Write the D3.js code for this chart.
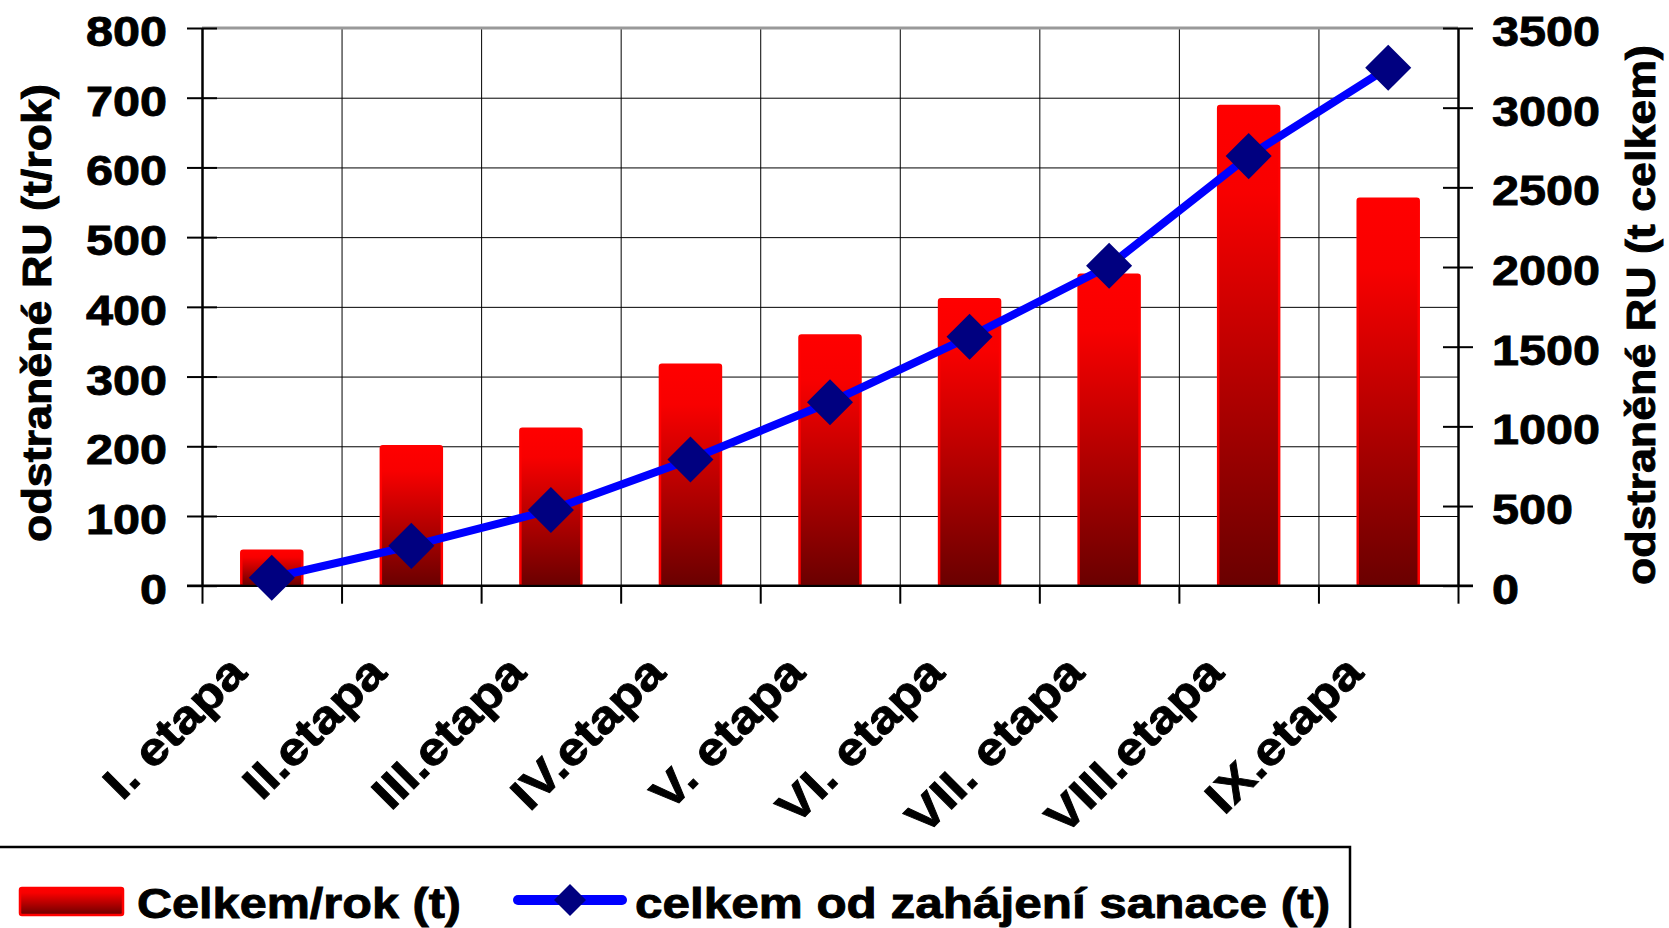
<html>
    <head>
        <meta charset="utf-8">
        <title>Odstraněné RU</title>
        <script src="https://d3js.org/d3.v7.min.js"></script>
    </head>

    <style>
        body {
        margin: 0;
        background: #fff;
        }

        svg {
        display: block;
        }

        text {
        font-family: 'Liberation Sans', Arial, sans-serif;
        font-weight: bold;
        fill: #000;
        stroke: #000;
        stroke-width: 0.9;
        }

        .grid path {
        stroke-width: 0;
        }

        .grid .tick line {
        stroke: #000;
        stroke-width: 1;
        }

        .axis path {
        stroke: #000;
        stroke-width: 2.5;
        }

        .axis .tick line {
        stroke: #000;
        stroke-width: 2;
        }

        .axis .tick text {
        font-size: 43px;
        }

        text.cat {
        font-size: 46px;
        }

        text.label {
        font-size: 40px;
        }

        text.legend {
        font-size: 43px;
        }
    </style>

    <body>
        <svg width="1669" height="928"></svg>

    <script>
        const categories = ['I. etapa', 'II.etapa', 'III.etapa', 'IV.etapa', 'V. etapa',
            'VI. etapa', 'VII. etapa', 'VIII.etapa', 'IX.etapa'];
        const perYear = [50, 200, 225, 317, 359, 411, 446, 688, 555];
        const cumulative = [50, 250, 475, 792, 1151, 1562, 2008, 2696, 3251];
        const leftTicks = [0, 100, 200, 300, 400, 500, 600, 700, 800];
        const rightTicks = [0, 500, 1000, 1500, 2000, 2500, 3000, 3500];

        const svg = d3.select('svg');

        // plot area
        const plotLeft = 202, plotRight = 1458, plotTop = 28, plotBottom = 585.7;
        const stretch = 1.13;

        const xBand = d3.scaleBand()
        .domain(categories)
        .range([plotLeft, plotRight])
        .padding(0);

        const xEdge = d3.scaleLinear()
        .domain([0, categories.length])
        .range([plotLeft, plotRight]);

        const yLeft = d3.scaleLinear()
        .domain([0, 800])
        .range([plotBottom, plotTop]);

        const yRight = d3.scaleLinear()
        .domain([0, 3500])
        .range([plotBottom, plotTop]);

        const defs = svg.append('defs');
        const grad = defs.append('linearGradient')
        .attr('id', 'barFill')
        .attr('x1', 0).attr('y1', 0)
        .attr('x2', 0).attr('y2', 1);
        grad.append('stop').attr('offset', '0%').attr('stop-color', '#ff0000');
        grad.append('stop').attr('offset', '18%').attr('stop-color', '#f80000');
        grad.append('stop').attr('offset', '100%').attr('stop-color', '#6a0000');

        // grid
        svg.append('g')
        .attr('class', 'grid')
        .attr('transform', `translate(${plotLeft}, 0)`)
        .call(d3.axisLeft(yLeft)
            .tickValues(leftTicks)
            .tickSize(-(plotRight - plotLeft))
            .tickFormat('')
        );

        svg.append('g')
        .attr('class', 'grid')
        .attr('transform', `translate(0, ${plotBottom})`)
        .call(d3.axisBottom(xEdge)
            .tickValues(d3.range(0, categories.length + 1))
            .tickSize(-(plotBottom - plotTop))
            .tickFormat('')
        );

        // bars
        const barW = xBand.bandwidth() * 0.437;
        svg.append('g')
        .selectAll('rect')
        .data(perYear)
        .enter()
        .append('rect')
        .attr('x', (d, i) => xBand(categories[i]) + (xBand.bandwidth() - barW) / 2)
        .attr('y', (d) => yLeft(d))
        .attr('width', barW)
        .attr('height', (d) => plotBottom - yLeft(d))
        .attr('rx', 2)
        .attr('fill', 'url(#barFill)')
        .attr('stroke', '#ff0000')
        .attr('stroke-width', 2.5);

        // top border of plot area
        svg.append('line')
        .attr('x1', plotLeft).attr('x2', plotRight)
        .attr('y1', plotTop).attr('y2', plotTop)
        .attr('stroke', '#999')
        .attr('stroke-width', 3);

        // left axis
        const leftAxis = svg.append('g')
        .attr('class', 'axis')
        .attr('transform', `translate(${plotLeft}, 0)`)
        .call(d3.axisLeft(yLeft)
            .tickValues(leftTicks)
            .tickSize(15)
            .tickSizeOuter(0)
            .tickPadding(20)
            .tickFormat(d3.format('d'))
        );
        leftAxis.selectAll('.tick line').attr('x1', 15);
        leftAxis.selectAll('.tick text')
        .attr('x', -35 / stretch)
        .attr('dy', 0)
        .attr('y', 17.5)
        .attr('transform', `scale(${stretch}, 1)`);

        // right axis
        const rightAxis = svg.append('g')
        .attr('class', 'axis')
        .attr('transform', `translate(${plotRight}, 0)`)
        .call(d3.axisRight(yRight)
            .tickValues(rightTicks)
            .tickSize(15)
            .tickSizeOuter(0)
            .tickPadding(19)
            .tickFormat(d3.format('d'))
        );
        rightAxis.selectAll('.tick line').attr('x1', -15);
        rightAxis.selectAll('.tick text')
        .attr('x', 34 / stretch)
        .attr('dy', 0)
        .attr('y', 17.5)
        .attr('transform', `scale(${stretch}, 1)`);

        // bottom axis
        const bottomAxis = svg.append('g')
        .attr('class', 'axis')
        .attr('transform', `translate(0, ${plotBottom})`)
        .call(d3.axisBottom(xEdge)
            .tickValues(d3.range(0, categories.length + 1))
            .tickSize(18)
            .tickSizeOuter(0)
            .tickFormat('')
        );
        bottomAxis.select('.domain')
        .attr('d', `M${plotLeft - 15},0H${plotRight + 15}`);

        // category labels
        svg.append('g')
        .selectAll('text')
        .data(categories)
        .enter()
        .append('text')
        .attr('class', 'cat')
        .attr('text-anchor', 'end')
        .attr('transform', (d) => {
            const cx = xBand(d) + xBand.bandwidth() / 2 - 23;
            return `translate(${cx}, 675) rotate(-45) scale(${stretch}, 1)`;
        })
        .text((d) => d);

        // cumulative line
        const line = d3.line()
        .x((d, i) => xBand(categories[i]) + xBand.bandwidth() / 2)
        .y((d) => yRight(d));

        svg.append('path')
        .datum(cumulative)
        .attr('d', line)
        .attr('fill', 'none')
        .attr('stroke', '#0000ff')
        .attr('stroke-width', 8);

        const diamond = d3.symbol().type(d3.symbolSquare).size(1060);
        svg.append('g')
        .selectAll('path')
        .data(cumulative)
        .enter()
        .append('path')
        .attr('d', diamond)
        .attr('transform', (d, i) =>
            `translate(${xBand(categories[i]) + xBand.bandwidth() / 2}, ${yRight(d)}) rotate(45)`)
        .attr('fill', '#000080');

        // axis titles
        svg.append('text')
        .attr('class', 'label')
        .attr('text-anchor', 'middle')
        .attr('transform', `translate(51, 313) rotate(-90) scale(1.12, 1)`)
        .text('odstraněné RU (t/rok)');

        svg.append('text')
        .attr('class', 'label')
        .attr('text-anchor', 'middle')
        .attr('transform', `translate(1655, 315) rotate(-90) scale(1.12, 1)`)
        .text('odstraněné RU (t celkem)');

        // legend
        const legend = svg.append('g');

        legend.append('rect')
        .attr('x', -5)
        .attr('y', 847)
        .attr('width', 1355)
        .attr('height', 120)
        .attr('fill', '#fff')
        .attr('stroke', '#000')
        .attr('stroke-width', 2.5);

        legend.append('rect')
        .attr('x', 20)
        .attr('y', 888)
        .attr('width', 103)
        .attr('height', 27)
        .attr('rx', 2)
        .attr('fill', 'url(#barFill)')
        .attr('stroke', '#ff0000')
        .attr('stroke-width', 2.5);

        legend.append('text')
        .attr('class', 'legend')
        .attr('transform', `translate(137, 918) scale(${stretch}, 1)`)
        .text('Celkem/rok (t)');

        legend.append('line')
        .attr('x1', 518).attr('x2', 622)
        .attr('y1', 900).attr('y2', 900)
        .attr('stroke', '#0000ff')
        .attr('stroke-width', 10)
        .attr('stroke-linecap', 'round');

        legend.append('path')
        .attr('d', d3.symbol().type(d3.symbolSquare).size(512))
        .attr('transform', 'translate(570, 900) rotate(45)')
        .attr('fill', '#000080');

        legend.append('text')
        .attr('class', 'legend')
        .attr('transform', `translate(635, 918) scale(1.15, 1)`)
        .text('celkem od zahájení sanace (t)');
    </script>
    </body>
</html>
